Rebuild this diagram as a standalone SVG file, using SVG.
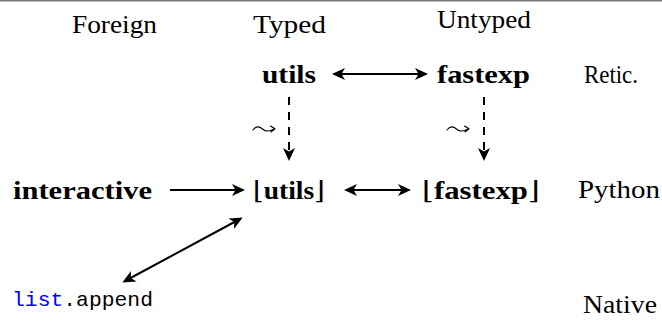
<svg xmlns="http://www.w3.org/2000/svg" width="662" height="321" viewBox="0 0 662 321">
<style>
  .lbl { font-family: "Liberation Serif", "DejaVu Serif", serif; font-size: 25px; fill: #000; text-anchor: middle; }
  .b { font-weight: bold; }
  .mono { font-family: "Liberation Mono", "DejaVu Sans Mono", monospace; font-size: 21px; fill: #000; }
  .kw { fill: #0000ff; }
  .sq { fill: none; stroke: #000; stroke-width: 1.1; stroke-linecap: round; stroke-linejoin: round; }
  .edge { fill: none; stroke: #000; stroke-width: 2; }
  .dash { stroke-dasharray: 8 7; }
</style>
<defs>
  <marker id="ah" markerUnits="userSpaceOnUse" markerWidth="16" markerHeight="14" refX="10" refY="6" orient="auto-start-reverse" overflow="visible">
    <path d="M0,0 L13,6 L0,12 L3.5,6 Z" fill="#000"/>
  </marker>
  <path id="leadsto" d="M0,2 C3,-2 6,-2 9.5,1 S16,4 21,1 M17.5,-2 L22,0.8 L18,4"/>
</defs>
<rect x="0" y="0" width="662" height="1.5" fill="#7a7a7a"/>

<g id="col-foreign"><text class="lbl" x="114.5" y="33" textLength="85" lengthAdjust="spacingAndGlyphs">Foreign</text></g>
<g id="col-typed"><text class="lbl" x="289.5" y="33" textLength="73" lengthAdjust="spacingAndGlyphs">Typed</text></g>
<g id="col-untyped"><text class="lbl" x="484" y="28" textLength="94" lengthAdjust="spacingAndGlyphs">Untyped</text></g>

<g id="row-retic"><text class="lbl" x="611" y="83" textLength="54" lengthAdjust="spacingAndGlyphs">Retic.</text></g>
<g id="row-python"><text class="lbl" x="619" y="198" textLength="82" lengthAdjust="spacingAndGlyphs">Python</text></g>
<g id="row-native"><text class="lbl" x="620" y="313" textLength="74" lengthAdjust="spacingAndGlyphs">Native</text></g>

<g id="utils"><text class="lbl b" x="289" y="83" textLength="54" lengthAdjust="spacingAndGlyphs">utils</text></g>
<g id="fastexp"><text class="lbl b" x="483.5" y="83" textLength="93" lengthAdjust="spacingAndGlyphs">fastexp</text></g>
<g id="interactive"><text class="lbl b" x="82.5" y="199" textLength="139" lengthAdjust="spacingAndGlyphs">interactive</text></g>
<g id="utils-py"><text class="lbl" x="289" y="199" textLength="72" lengthAdjust="spacingAndGlyphs">⌊<tspan class="b">utils</tspan>⌋</text></g>
<g id="fastexp-py"><text class="lbl" x="481" y="199" textLength="118" lengthAdjust="spacingAndGlyphs">⌊<tspan class="b">fastexp</tspan>⌋</text></g>
<g id="list-append"><text class="mono" x="12" y="306" textLength="141" lengthAdjust="spacingAndGlyphs"><tspan class="kw">list</tspan>.append</text></g>

<g id="connectors">
  <line class="edge" x1="335" y1="74" x2="425" y2="74" marker-start="url(#ah)" marker-end="url(#ah)"/>
  <line class="edge dash" x1="289" y1="97" x2="289" y2="158" marker-end="url(#ah)"/>
  <line class="edge dash" x1="484" y1="97" x2="484" y2="158" marker-end="url(#ah)"/>
  <use href="#leadsto" class="sq" x="253" y="128"/>
  <use href="#leadsto" class="sq" x="447" y="128"/>
  <line class="edge" x1="170" y1="190" x2="242" y2="190" marker-end="url(#ah)"/>
  <line class="edge" x1="347" y1="190" x2="408" y2="190" marker-start="url(#ah)" marker-end="url(#ah)"/>
  <line class="edge" x1="240" y1="219" x2="125" y2="281" marker-start="url(#ah)" marker-end="url(#ah)"/>
</g>
</svg>
